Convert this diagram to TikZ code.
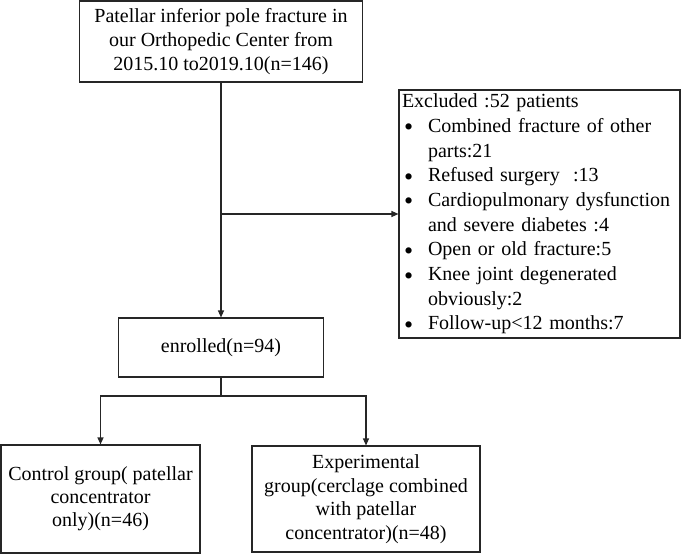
\documentclass[tikz,border=0pt]{standalone}
\usepackage{fontspec}
\setmainfont{Liberation Serif}
\usetikzlibrary{arrows.meta}
\newcommand{\bul}{\makebox[26pt][l]{\hspace{2pt}\raisebox{-3.5pt}{\fontsize{26}{24}\selectfont•}}}
\begin{document}
\begin{tikzpicture}[x=1pt,y=-1pt,
  box/.style={draw=black!85, line width=1.1pt, inner sep=0pt, align=center,
    font=\fontsize{20}{24}\selectfont},
  conn/.style={draw=black!85, line width=1.1pt},
  arr/.style={conn, -{Triangle[length=7pt,width=6pt]}}]
\useasboundingbox (0,0) rectangle (685,554);
\node[box, minimum width=283pt, minimum height=81pt] (top) at (221,41.5)
  {Patellar inferior pole fracture in\\our Orthopedic Center from\\2015.10 to2019.10(n=146)};
\node[box, minimum width=281pt, minimum height=248pt, align=left, text width=275pt,
  font=\fontsize{20}{24.7}\selectfont] (excl) at (539.5,214)
  {Excluded :52 patients\\
   \bul Combined fracture of other\\
   \hspace*{26pt}parts:21\\
   \bul Refused surgery\ \ :13\\
   \bul Cardiopulmonary dysfunction\\
   \hspace*{26pt}and severe diabetes :4\\
   \bul Open or old fracture:5\\
   \bul Knee joint degenerated\\
   \hspace*{26pt}obviously:2\\
   \bul Follow-up<12 months:7};
\node[box, minimum width=205pt, minimum height=59pt] (enr) at (221,347.5) {enrolled(n=94)};
\node[box, minimum width=199pt, minimum height=108pt, font=\fontsize{20}{23}\selectfont] (ctrl) at (100.5,499)
  {Control group( patellar\\concentrator\\only)(n=46)};
\node[box, minimum width=228pt, minimum height=106pt, font=\fontsize{20}{23.5}\selectfont] (exp) at (366,499)
  {Experimental\\group(cerclage combined\\with patellar\\concentrator)(n=48)};
\coordinate (j1) at (top.south |- excl.west);
\coordinate (j2) at (enr.south |- 0,396);
\draw[arr] (top.south) -- (enr.north);
\draw[arr] (j1) -- (excl.west);
\draw[arr] (enr.south) -- (j2) -| (ctrl.north);
\draw[arr] (enr.south) -- (j2) -| (exp.north);
\end{tikzpicture}
\end{document}
